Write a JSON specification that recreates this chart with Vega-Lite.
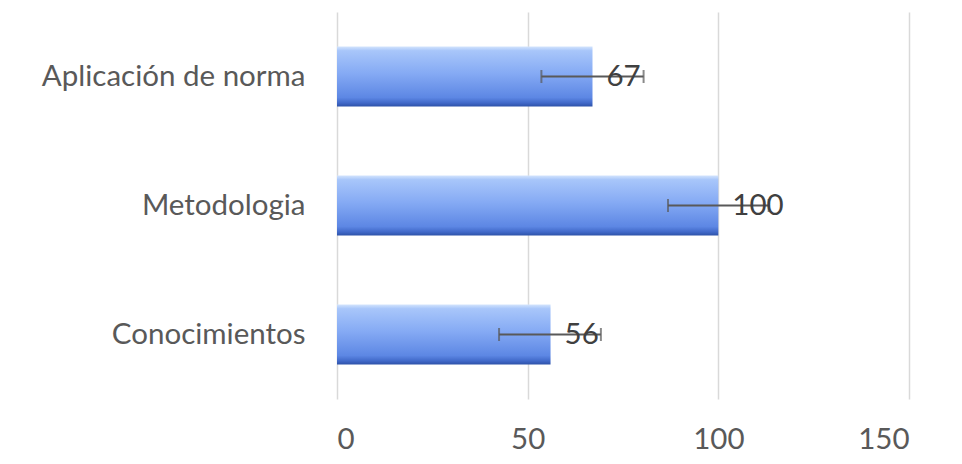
{
  "$schema": "https://vega.github.io/schema/vega-lite/v6.json",
  "width": 572,
  "height": 387,
  "autosize": "none",
  "padding": {"left": 337, "top": 12, "right": 53, "bottom": 65},
  "background": "white",
  "config": {"view": {"stroke": null}, "font": "Lato"},
  "data": {"values": [
    {"cat": "Aplicación de norma", "value": 67, "lo": 53.6, "hi": 80.4},
    {"cat": "Metodologia", "value": 100, "lo": 86.8, "hi": 113.2},
    {"cat": "Conocimientos", "value": 56, "lo": 42.5, "hi": 69.2}
  ]},
  "encoding": {
    "y": {"field": "cat", "type": "nominal", "sort": null, "title": null,
      "scale": {"paddingInner": 0.535, "paddingOuter": 0.2675},
      "axis": {"domain": false, "ticks": false, "labelPadding": 32, "labelFontSize": 29.5, "labelColor": "#595959", "labelFont": "Lato", "labelLimit": 400}}
  },
  "layer": [
    {
      "mark": {"type": "bar", "color": {"gradient": "linear", "x1": 0, "y1": 0, "x2": 0, "y2": 1,
        "stops": [
          {"offset": 0, "color": "#d3e4fd"},
          {"offset": 0.07, "color": "#a8c6fa"},
          {"offset": 0.45, "color": "#85aaf4"},
          {"offset": 0.85, "color": "#5d87e4"},
          {"offset": 0.94, "color": "#4169c9"},
          {"offset": 1, "color": "#2d52a8"}
        ]}},
      "encoding": {
        "x": {"field": "value", "type": "quantitative", "title": null,
          "scale": {"domain": [0, 150], "nice": false},
          "axis": {"values": [0, 50, 100, 150], "domain": false, "ticks": false, "grid": true, "gridColor": "#d9d9d9", "gridWidth": 1.5,
            "labelFontSize": 29.5, "labelColor": "#595959", "labelPadding": 26, "labelFont": "Lato"}}
      }
    },
    {
      "mark": {"type": "errorbar", "color": "#595959", "thickness": 2, "ticks": {"size": 13, "thickness": 2}},
      "encoding": {
        "x": {"field": "lo", "type": "quantitative"},
        "x2": {"field": "hi"}
      }
    },
    {
      "mark": {"type": "text", "align": "left", "baseline": "middle", "dx": 14, "fontSize": 29.5, "color": "#404040", "font": "Lato"},
      "encoding": {
        "x": {"field": "value", "type": "quantitative"},
        "text": {"field": "value", "type": "quantitative"}
      }
    }
  ]
}
